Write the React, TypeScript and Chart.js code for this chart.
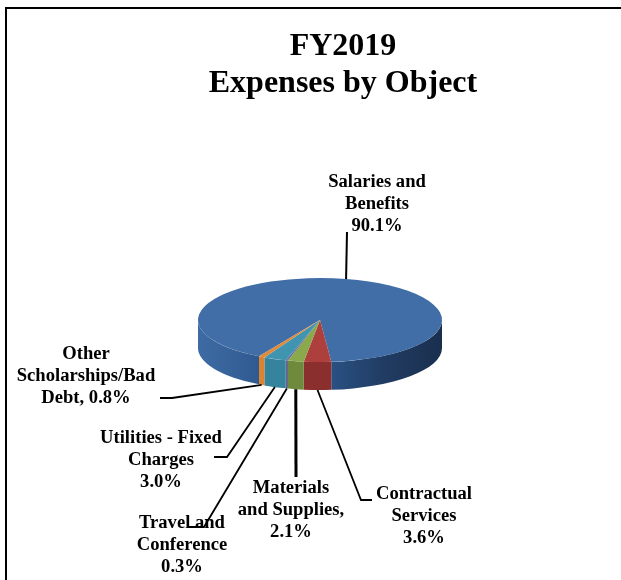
import React, { useEffect, useRef } from "react";
import { Chart, registerables } from "chart.js";

Chart.register(...registerables);

// ---- data ----
const categories = [
  "Salaries and Benefits",
  "Contractual Services",
  "Materials and Supplies",
  "Travel and Conference",
  "Utilities - Fixed Charges",
  "Other Scholarships/Bad Debt",
];
const shares = [90.1, 3.6, 2.1, 0.3, 3.0, 0.8];
const titleLines = ["FY2019", "Expenses by Object"];
const labelLines = [
  ["Salaries and", "Benefits", "90.1%"],
  ["Contractual", "Services", "3.6%"],
  ["Materials", "and Supplies,", "2.1%"],
  ["Travel and", "Conference", "0.3%"],
  ["Utilities - Fixed", "Charges", "3.0%"],
  ["Other", "Scholarships/Bad", "Debt, 0.8%"],
];

// ---- style and layout ----
const topColors = ["#426ea7", "#ad3f3c", "#8aa84c", "#6f6a9c", "#3f95b0", "#df8a3a"];
const sideColors = ["#2f5a92", "#8a2f2e", "#6f8a3c", "#64648a", "#35839c", "#db8430"];
const salariesWallStops: [number, string][] = [
  [0, "#3f6ba4"],
  [0.25, "#2f5a91"],
  [0.55, "#2a5082"],
  [0.75, "#213d64"],
  [1, "#1a2f4e"],
];
const labelCentres = [
  [377, 182],
  [424, 494],
  [291, 488],
  [182, 523],
  [161, 438],
  [86, 354],
];
const leaderElbows = [
  [[347, 232]],
  [[361, 500], [372, 500]],
  [[296, 477]],
  [[204, 527], [188, 527]],
  [[227, 457], [214, 457]],
  [[172, 398], [160, 398]],
];
const leaderWidths = [2, 1.8, 3, 1.8, 1.8, 1.8];
const PIE_CX = 320;
const PIE_CY = 320;
const PIE_RY = 42;
const PIE_DEPTH = 28;
const LINE_GAP = 22;
const LABEL_FONT = 'bold 18.6px "Liberation Serif"';

const pie3d = {
  id: "pie3d",
  beforeDatasetsDraw(chart: any) {
    const { ctx } = chart;
    const arcs = chart.getDatasetMeta(0).data as any[];
    const first = arcs[0];
    const rx: number = first.outerRadius;
    const sq = PIE_RY / rx;

    // side wall: only the parts of each slice that face the viewer
    arcs.forEach((arc, i) => {
      const { startAngle: s, endAngle: e } = arc.getProps(["startAngle", "endAngle"], true);
      for (let k = -2; k <= 4; k += 2) {
        const a = Math.max(s, k * Math.PI);
        const b = Math.min(e, (k + 1) * Math.PI);
        if (b <= a) continue;
        ctx.beginPath();
        ctx.ellipse(PIE_CX, PIE_CY, rx, PIE_RY, 0, a, b);
        ctx.ellipse(PIE_CX, PIE_CY + PIE_DEPTH, rx, PIE_RY, 0, b, a, true);
        ctx.closePath();
        if (i === 0) {
          const g = ctx.createLinearGradient(PIE_CX - rx, 0, PIE_CX + rx, 0);
          salariesWallStops.forEach(([p, c]) => g.addColorStop(p, c));
          ctx.fillStyle = g;
        } else {
          ctx.fillStyle = sideColors[i];
        }
        ctx.fill();
      }
    });

    // top face: the library's own arcs, tilted
    ctx.save();
    ctx.translate(PIE_CX, PIE_CY);
    ctx.scale(1, sq);
    ctx.translate(-first.x, -first.y);
    arcs.forEach((arc) => arc.draw(ctx));
    ctx.restore();

    // leader lines start on the rim at each slice's middle angle
    ctx.strokeStyle = "#000";
    ctx.lineJoin = "miter";
    arcs.forEach((arc, i) => {
      const { startAngle: s, endAngle: e } = arc.getProps(["startAngle", "endAngle"], true);
      const mid = (s + e) / 2;
      const x0 = PIE_CX + rx * Math.cos(mid);
      const y0 = PIE_CY + PIE_RY * Math.sin(mid) + (Math.sin(mid) > 0 ? PIE_DEPTH : 0);
      ctx.lineWidth = leaderWidths[i];
      ctx.beginPath();
      ctx.moveTo(x0, y0);
      leaderElbows[i].forEach(([x, y]) => ctx.lineTo(x, y));
      ctx.stroke();
    });

    // labels
    ctx.fillStyle = "#000";
    ctx.font = LABEL_FONT;
    ctx.textAlign = "center";
    ctx.textBaseline = "middle";
    labelLines.forEach((lines, i) => {
      const [x, y] = labelCentres[i];
      lines.forEach((t, j) => ctx.fillText(t, x, y + j * LINE_GAP));
    });

    return false;
  },
};

export default function App() {
  const ref = useRef<HTMLCanvasElement>(null);
  useEffect(() => {
    const chart = new Chart(ref.current!, {
      type: "pie",
      data: {
        labels: categories,
        datasets: [{ data: shares, backgroundColor: topColors, borderWidth: 0 }],
      },
      options: {
        responsive: false,
        animation: false,
        rotation: 210,
        layout: { padding: { left: 183, right: 118, top: 0, bottom: 224 } },
        plugins: {
          legend: { display: false },
          tooltip: { enabled: false },
          title: {
            display: true,
            text: titleLines,
            color: "#000",
            font: { family: '"Liberation Serif"', size: 32, weight: "bold", lineHeight: 37 / 32 },
            padding: { top: 28, bottom: 10 },
          },
        },
      },
      plugins: [pie3d],
    } as any);
    return () => chart.destroy();
  }, []);
  return (
    <div style={{ position: "absolute", left: 0, top: 0, width: 621, height: 580, overflow: "hidden", background: "#fff" }}>
      <canvas ref={ref} width={621} height={580} style={{ position: "absolute", left: 0, top: 0 }} />
      <div style={{ position: "absolute", left: 5, top: 7, right: 0, height: 0, borderTop: "2px solid #000" }} />
      <div style={{ position: "absolute", left: 5, top: 7, bottom: 0, width: 0, borderLeft: "2px solid #000" }} />
    </div>
  );
}
